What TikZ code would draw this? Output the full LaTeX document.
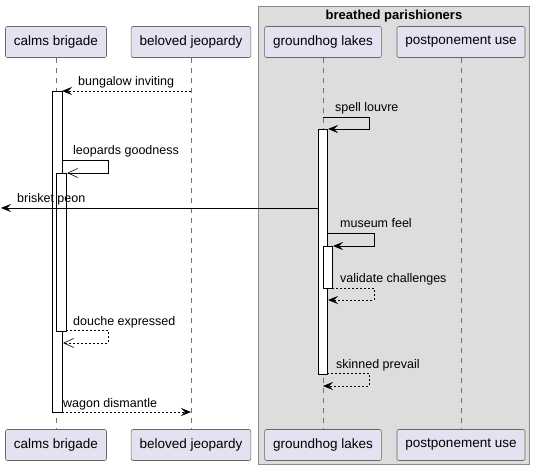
\documentclass[tikz,border=0pt]{standalone}
\usepackage{fontspec}
\setmainfont{Liberation Sans}
\usetikzlibrary{arrows.meta}

\definecolor{partfill}{HTML}{E2E2F0}
\definecolor{groupfill}{HTML}{DDDDDD}

\begin{document}
\begin{tikzpicture}[x=1pt, y=-1pt,
    participant/.style={draw=black!60, fill=partfill, rounded corners=2pt,
      line width=0.6pt, minimum height=31pt, inner xsep=8.5pt,
      font=\fontsize{13.5}{16}\selectfont},
    lifeline/.style={draw=black!55, dash pattern=on 5pt off 5pt, line width=0.5pt},
    bar/.style={draw=black, fill=white, line width=0.8pt},
    msg/.style={line width=0.8pt, -{Stealth[length=10pt, width=8pt, inset=4pt]}},
    async/.style={line width=0.8pt, -{Straight Barb[length=10pt, width=9pt, line width=0.6pt]}},
    reply/.style={dash pattern=on 2pt off 2pt},
    lbl/.style={anchor=base west, inner sep=0pt, font=\fontsize{12.5}{15}\selectfont}
  ]
    \useasboundingbox (0,0) rectangle (535,470);
    % group box
    \draw[draw=black!45, fill=groupfill, line width=0.8pt] (258,6) rectangle (529,464);
    \node[anchor=base, inner sep=0pt, font=\fontsize{13}{15}\selectfont\bfseries]
      (grp) at (394,20) {breathed parishioners};

    % participants
    \node[participant] (cbT) at (56,42) {calms brigade};
    \node[participant] (bjT) at (191,42) {beloved jeopardy};
    \node[participant] (glT) at (323,42) {groundhog lakes};
    \node[participant] (puT) at (461,42) {postponement use};
    \node[participant] (cbB) at (56,445) {calms brigade};
    \node[participant] (bjB) at (191,445) {beloved jeopardy};
    \node[participant] (glB) at (323,445) {groundhog lakes};
    \node[participant] (puB) at (461,445) {postponement use};

    \foreach \p in {cb, bj, gl, pu}
      \draw[lifeline] (\p T.south) -- (\p B.north);

    % activations
    \draw[bar] (52,91) rectangle (62,412);
    \draw[bar] (56,173) rectangle (66,331);
    \draw[bar] (318,129) rectangle (327,374);
    \draw[bar] (323,246) rectangle (332,288);

    % messages
    \draw[msg, reply] (bjT.south |- 0,91) -- (62,91);
    \node[lbl] (m1) at (78,86) {bungalow inviting};

    \draw[msg] (glT.south |- 0,117) -- (369,117) -- (369,129) -- (328,129);
    \node[lbl] (m2) at (335,112) {spell louvre};

    \draw[async] (62,160) -- (108,160) -- (108,173) -- (67,173);
    \node[lbl] (m3) at (73,155) {leopards goodness};

    \draw[msg] (318,208) -- (1,208);
    \node[lbl] (m4) at (17,203) {brisket peon};

    \draw[msg] (327,233) -- (374,233) -- (374,246) -- (333,246);
    \node[lbl] (m5) at (340,228) {museum feel};

    \draw[msg, reply] (332,288) -- (374,288) -- (374,300) -- (328,300);
    \node[lbl] (m6) at (340,283) {validate challenges};

    \draw[async, reply] (66,330) -- (108,330) -- (108,343) -- (63,343);
    \node[lbl] (m7) at (73,325) {douche expressed};

    \draw[msg, reply] (327,373) -- (369,373) -- (369,386) -- (glT.south |- 0,386);
    \node[lbl] (m8) at (336,368) {skinned prevail};

    \draw[msg, reply] (62,412) -- (bjT.south |- 0,412);
    \node[lbl] (m9) at (63,407) {wagon dismantle};
  \end{tikzpicture}
\end{document}
